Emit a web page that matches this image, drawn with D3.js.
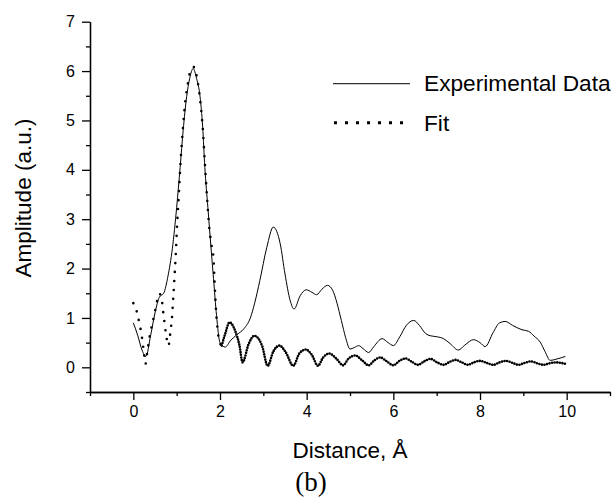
<!DOCTYPE html>
<meta charset="utf-8">
<style>
body{margin:0;background:#fff;}
text{font-family:"Liberation Sans",Arial,Helvetica;fill:#000;}
.title{font-size:22.5px;}
.legend{font-size:22.7px;}
.caption{font-family:"Liberation Serif","Times New Roman",serif;font-size:27px;}
.axis path,.axis line{stroke:#000;stroke-width:1.3;}
</style>
<body>
<script src="https://d3js.org/d3.v7.min.js"></script>
<script>

// experimental data (solid)
var expX=[0,0.1,0.2,0.29,0.4,0.5,0.6,0.7,0.8,0.9,1.0,1.08,1.15,1.23,1.3,1.38,1.46,1.54,1.6,1.65,1.72,1.79,1.85,1.92,2.0,2.12,2.25,2.39,2.55,2.7,2.8,2.92,3.08,3.23,3.39,3.5,3.62,3.71,3.85,3.99,4.12,4.23,4.35,4.48,4.6,4.7,4.8,4.9,5.0,5.1,5.2,5.3,5.43,5.55,5.74,5.88,6.0,6.15,6.3,6.47,6.6,6.75,6.85,7.0,7.16,7.31,7.5,7.65,7.85,8.0,8.12,8.3,8.45,8.58,8.75,8.97,9.12,9.25,9.39,9.5,9.62,9.78,9.97];
var expY=[0.9,0.65,0.35,0.22,0.65,1.1,1.42,1.5,1.85,2.4,3.24,4.05,4.8,5.48,5.85,6.05,5.85,5.48,4.87,4.05,3.24,2.45,1.8,1.05,0.5,0.41,0.55,0.66,0.78,1.0,1.3,1.76,2.43,2.84,2.5,1.89,1.35,1.18,1.45,1.57,1.52,1.47,1.58,1.66,1.56,1.3,0.95,0.6,0.37,0.4,0.44,0.38,0.3,0.42,0.58,0.5,0.44,0.62,0.85,0.95,0.85,0.68,0.64,0.62,0.58,0.48,0.35,0.45,0.56,0.5,0.42,0.7,0.9,0.93,0.85,0.76,0.73,0.63,0.51,0.32,0.14,0.17,0.22];

// fit (dotted)
var fitX=[0,0.05,0.1,0.15,0.2,0.25,0.28,0.32,0.38,0.48,0.55,0.6,0.65,0.69,0.75,0.81,0.86,0.89,0.92,0.95,0.98,1.0,1.05,1.1,1.15,1.2,1.25,1.3,1.35,1.4,1.45,1.5,1.55,1.6,1.65,1.7,1.75,1.8,1.85,1.87,1.89,1.91,1.94,1.98,2.04,2.12,2.22,2.35,2.45,2.52,2.66,2.79,2.97,3.1,3.23,3.37,3.52,3.69,3.83,3.98,4.12,4.26,4.38,4.52,4.68,4.84,4.97,5.12,5.28,5.43,5.56,5.7,5.85,6.0,6.14,6.28,6.43,6.57,6.71,6.86,7.01,7.16,7.3,7.44,7.58,7.72,7.86,8.0,8.15,8.31,8.45,8.6,8.75,8.89,9.03,9.18,9.32,9.47,9.6,9.75,9.87,9.97];
var fitY=[1.3,1.22,1.05,0.85,0.6,0.25,0.07,0.3,0.64,1.05,1.35,1.49,1.4,1.12,0.7,0.44,0.75,0.98,1.39,1.83,2.3,2.7,3.5,4.3,4.9,5.4,5.7,5.95,6.05,6.08,5.95,5.7,5.35,4.87,4.15,3.45,2.85,2.5,2.2,1.83,1.45,1.12,0.81,0.54,0.44,0.68,0.91,0.74,0.44,0.1,0.47,0.64,0.44,0.03,0.32,0.44,0.3,0.03,0.28,0.36,0.25,0.03,0.2,0.28,0.18,0.04,0.18,0.24,0.14,0.04,0.14,0.2,0.12,0.04,0.13,0.18,0.11,0.05,0.12,0.17,0.1,0.05,0.11,0.15,0.1,0.05,0.1,0.13,0.09,0.05,0.1,0.13,0.09,0.05,0.09,0.12,0.08,0.05,0.08,0.1,0.09,0.07];

var xMajor=[0,2,4,6,8,10];
var xMinor=[-1,1,3,5,7,9,11];
var yMajor=[0,1,2,3,4,5,6,7];
var yMinor=[-0.5,0.5,1.5,2.5,3.5,4.5,5.5,6.5];
var legendLabels=["Experimental Data","Fit"];

var svg=d3.select("body").append("svg").attr("width",615).attr("height",504);

var x=d3.scaleLinear().domain([-1,11]).range([90,610]);
var y=d3.scaleLinear().domain([-0.5,7]).range([392,21.7]);

// axes
svg.append("g").attr("class","axis").attr("transform","translate(0,392)")
	.call(d3.axisBottom(x).tickValues(xMajor).tickSize(8).tickPadding(6).tickSizeOuter(0));
svg.append("g").attr("class","axis").attr("transform","translate(0,392)")
	.call(d3.axisBottom(x).tickValues(xMinor).tickSize(4).tickFormat("").tickSizeOuter(0));
svg.append("g").attr("class","axis").attr("transform","translate(90,0)")
	.call(d3.axisLeft(y).tickValues(yMajor).tickSize(8).tickPadding(7).tickSizeOuter(0));
svg.append("g").attr("class","axis").attr("transform","translate(90,0)")
	.call(d3.axisLeft(y).tickValues(yMinor).tickSize(4).tickFormat("").tickSizeOuter(0));
svg.selectAll(".axis .tick text").style("font-size","16px").style("font-family","Liberation Sans, Arial");

// curves
var line=d3.line().x(d=>x(d[0])).y(d=>y(d[1])).curve(d3.curveMonotoneX);
var fitData=fitX.map((v,i)=>[v,fitY[i]]);
var expData=expX.map((v,i)=>[v,expY[i]]);

// steep part: sparse dots, oscillating tail: dense dots
svg.append("path").datum(fitData.filter(d=>d[0]<=2.04)).attr("d",line)
	.attr("fill","none").attr("stroke","#000").attr("stroke-width",2.6)
	.attr("stroke-linecap","round").attr("stroke-dasharray","0 9");
svg.append("path").datum(fitData.filter(d=>d[0]>=2.04)).attr("d",line)
	.attr("fill","none").attr("stroke","#000").attr("stroke-width",2.6)
	.attr("stroke-linecap","round").attr("stroke-dasharray","0 2.6");
svg.append("path").datum(expData).attr("d",line)
	.attr("fill","none").attr("stroke","#000").attr("stroke-width",1);

// legend
svg.append("line").attr("x1",333).attr("x2",410).attr("y1",83.7).attr("y2",83.7)
	.attr("stroke","#000").attr("stroke-width",1);
svg.append("line").attr("x1",334).attr("x2",404).attr("y1",122.7).attr("y2",122.7)
	.attr("stroke","#000").attr("stroke-width",3).attr("stroke-dasharray","3 8");
svg.append("text").attr("class","legend").attr("x",424).attr("y",91).text(legendLabels[0]);
svg.append("text").attr("class","legend").attr("x",424).attr("y",131).text(legendLabels[1]);

// titles
svg.append("text").attr("class","title").attr("text-anchor","middle")
	.attr("x",350).attr("y",458).text("Distance, Å");
svg.append("text").attr("class","title").attr("text-anchor","middle")
	.attr("transform","translate(31,198) rotate(-90)").text("Amplitude (a.u.)");
svg.append("text").attr("class","caption").attr("text-anchor","middle")
	.attr("x",311).attr("y",491).text("(b)");

</script>
</body>
</html>
